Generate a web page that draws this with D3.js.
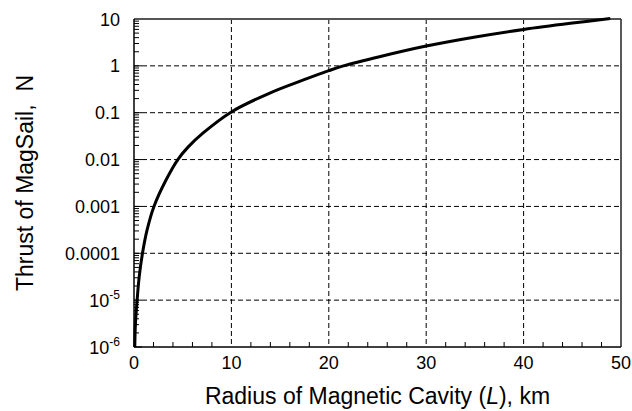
<!DOCTYPE html>
<html>
<head>
<meta charset="utf-8">
<script src="https://cdn.jsdelivr.net/npm/d3@7"></script>
<style>
  html, body { margin: 0; padding: 0; background: #fff; }
  svg text { font-family: "Liberation Sans", Arial, Helvetica, sans-serif; fill: #000; }
</style>
</head>
<body>
<svg id="chart" width="632" height="411"></svg>
<script>
// Magnetic cavity radius L (km) and resulting MagSail thrust (N)
const radiusKm = [0.08, 0.15, 0.32, 0.53, 0.87, 1.35, 2.05, 3.3, 4.5, 5.5, 7.1, 10, 14, 17.4, 20, 21.5, 25.2, 30, 35.2, 40, 44.8, 48.9];
const thrustN  = [1e-6, 3.2e-6, 1e-5, 3.1e-5, 1e-4, 3.2e-4, 1e-3, 3.7e-3, 0.01, 0.018, 0.037, 0.104, 0.266, 0.50, 0.79, 1.0, 1.57, 2.65, 4.19, 6.0, 8.1, 10.2];

// Axis ticks and labels
const xTicks = [0, 10, 20, 30, 40, 50];
const xMinorTicks = [2, 4, 6, 8, 12, 14, 16, 18, 22, 24, 26, 28, 32, 34, 36, 38, 42, 44, 46, 48];
const yTicks = [1e-6, 1e-5, 1e-4, 1e-3, 1e-2, 1e-1, 1, 10];
const yTickLabels = [["10", "-6"], ["10", "-5"], ["0.0001"], ["0.001"], ["0.01"], ["0.1"], ["1"], ["10"]];
const xTitle = ["Radius of Magnetic Cavity (", "L", "), km"];
const yTitle = "Thrust of MagSail,  N";

const svg = d3.select("#chart");
const m = { left: 134, right: 621, top: 19, bottom: 347 };

const x = d3.scaleLinear().domain([0, 50]).range([m.left, m.right]);
const y = d3.scaleLog().domain([1e-6, 10]).range([m.bottom, m.top]);

// Dashed grid
const grid = svg.append("g").attr("stroke", "#000").attr("stroke-width", 1).attr("stroke-dasharray", "5,3");
grid.selectAll("line.gx").data(xTicks.filter(d => d > 0 && d < 50)).join("line")
  .attr("x1", d => x(d)).attr("x2", d => x(d)).attr("y1", m.top).attr("y2", m.bottom);
grid.selectAll("line.gy").data(yTicks.filter(d => d > 1e-6 && d < 10)).join("line")
  .attr("x1", m.left).attr("x2", m.right).attr("y1", d => y(d)).attr("y2", d => y(d));

// Minor log ticks on the y axis (inside)
const yMinor = [];
for (let e = -6; e < 1; e++) for (let k = 2; k <= 9; k++) yMinor.push(k * Math.pow(10, e));
svg.append("g").selectAll("line").data(yMinor).join("line")
  .attr("x1", m.left).attr("x2", m.left + 5)
  .attr("y1", d => y(d)).attr("y2", d => y(d))
  .attr("stroke", "#000").attr("stroke-width", 1);
svg.append("g").selectAll("line").data(yTicks).join("line")
  .attr("x1", m.left).attr("x2", m.left + 8)
  .attr("y1", d => y(d)).attr("y2", d => y(d))
  .attr("stroke", "#000").attr("stroke-width", 1);

// Minor ticks on the x axis (inside)
svg.append("g").selectAll("line").data(xMinorTicks).join("line")
  .attr("x1", d => x(d)).attr("x2", d => x(d))
  .attr("y1", m.bottom).attr("y2", m.bottom - 5)
  .attr("stroke", "#000").attr("stroke-width", 1);

// Frame
svg.append("line").attr("x1", m.left).attr("x2", m.right).attr("y1", m.top).attr("y2", m.top)
  .attr("stroke", "#555").attr("stroke-width", 2);
svg.append("line").attr("x1", m.right).attr("x2", m.right).attr("y1", m.top).attr("y2", m.bottom)
  .attr("stroke", "#222").attr("stroke-width", 1.5);
svg.append("line").attr("x1", m.left).attr("x2", m.right).attr("y1", m.bottom).attr("y2", m.bottom)
  .attr("stroke", "#000").attr("stroke-width", 1.5);
svg.append("line").attr("x1", m.left).attr("x2", m.left).attr("y1", m.top).attr("y2", m.bottom)
  .attr("stroke", "#000").attr("stroke-width", 1.5);

// Thrust curve
const pts = radiusKm.map((r, i) => [r, thrustN[i]]);
svg.append("path")
  .datum(pts)
  .attr("fill", "none").attr("stroke", "#000").attr("stroke-width", 3)
  .attr("stroke-linejoin", "round")
  .attr("d", d3.line().x(d => x(d[0])).y(d => y(d[1])).curve(d3.curveCatmullRom.alpha(0.5)));

// Tick labels
const xl = svg.append("g").attr("font-size", 18).attr("text-anchor", "middle");
xl.selectAll("text").data(xTicks).join("text")
  .attr("x", d => x(d)).attr("y", m.bottom + 22).text(d => d);

const yl = svg.append("g").attr("font-size", 18).attr("text-anchor", "end");
yTicks.forEach((v, i) => {
  const lab = yTickLabels[i];
  const t = yl.append("text").attr("x", m.left - 14).attr("y", y(v) + 6.5);
  t.append("tspan").text(lab[0]);
  if (lab[1]) {
    t.append("tspan").attr("font-size", 12).attr("dy", -8).text(lab[1]);
  }
});

// Axis titles
const xt = svg.append("text").attr("x", (m.left + m.right) / 2).attr("y", 404)
  .attr("text-anchor", "middle").attr("font-size", 23);
xt.append("tspan").text(xTitle[0]);
xt.append("tspan").attr("font-style", "italic").text(xTitle[1]);
xt.append("tspan").text(xTitle[2]);

svg.append("text")
  .attr("transform", `translate(33, ${(m.top + m.bottom) / 2}) rotate(-90)`)
  .attr("text-anchor", "middle").attr("font-size", 23)
  .style("white-space", "pre")
  .text(yTitle);
</script>
</body>
</html>
